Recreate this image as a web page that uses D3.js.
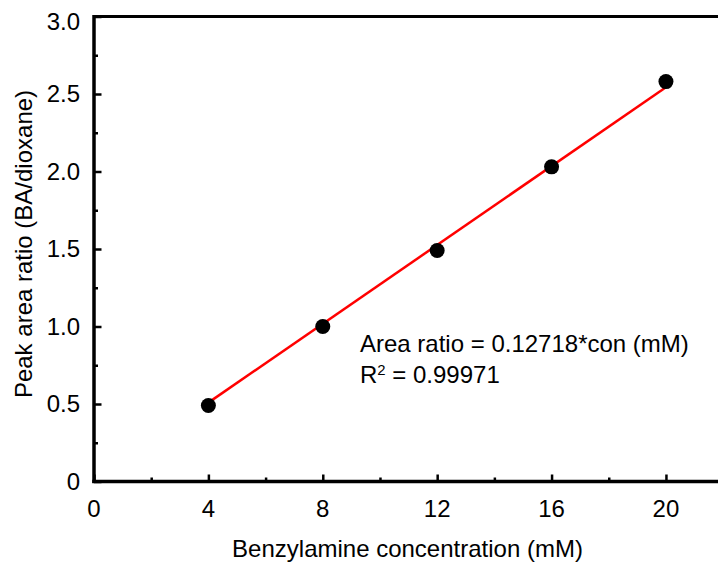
<!DOCTYPE html>
<html>
<head>
<meta charset="utf-8">
<script src="https://cdn.jsdelivr.net/npm/d3@7"></script>
<style>
  html, body { margin: 0; padding: 0; background: #fff; }
  svg { display: block; font-family: "Liberation Sans", Arial, sans-serif; }
</style>
</head>
<body>
<svg id="chart" width="718" height="564"></svg>
<script>
// ---- data ----
const concentrations = [4, 8, 12, 16, 20];
const areaRatios = [0.49, 1.00, 1.49, 2.03, 2.58];
const slope = 0.12718;
const rSquared = "0.99971";
const xTicks = [0, 4, 8, 12, 16, 20];
const xMinorTicks = [2, 6, 10, 14, 18];
const yTicks = [0, 0.5, 1.0, 1.5, 2.0, 2.5, 3.0];
const yMinorTicks = [0.25, 0.75, 1.25, 1.75, 2.25, 2.75];
const yTickLabels = ["0", "0.5", "1.0", "1.5", "2.0", "2.5", "3.0"];
const xTitle = "Benzylamine concentration (mM)";
const yTitle = "Peak area ratio (BA/dioxane)";
const equationText = "Area ratio = 0.12718*con (mM)";

// ---- layout ----
const W = 718, H = 564;
const m = { left: 94, top: 16.5, right: 0, bottom: 82.5 };
const svg = d3.select("#chart");

const x = d3.scaleLinear().domain([0, 21.82]).range([m.left, W - m.right]);
const y = d3.scaleLinear().domain([0, 3]).range([H - m.bottom, m.top]);

const fs = 24;

// top frame line
svg.append("line")
  .attr("x1", x(0)).attr("x2", x.range()[1])
  .attr("y1", y(3)).attr("y2", y(3))
  .attr("stroke", "#000").attr("stroke-width", 3);

// y axis ticks (inside)
function styleTicks(g) {
  g.select(".domain").remove();
  g.selectAll(".tick line").attr("stroke-width", 2.5);
}
svg.append("g").attr("transform", `translate(${x(0)},0)`)
  .call(d3.axisRight(y).tickValues(yTicks).tickSize(7.5).tickFormat("")).call(styleTicks);
svg.append("g").attr("transform", `translate(${x(0)},0)`)
  .call(d3.axisRight(y).tickValues(yMinorTicks).tickSize(4).tickFormat("")).call(styleTicks);

// x axis ticks (inside)
svg.append("g").attr("transform", `translate(0,${y(0)})`)
  .call(d3.axisTop(x).tickValues(xTicks).tickSize(7).tickFormat("")).call(styleTicks);
svg.append("g").attr("transform", `translate(0,${y(0)})`)
  .call(d3.axisTop(x).tickValues(xMinorTicks).tickSize(4).tickFormat("")).call(styleTicks);

// axis lines
svg.append("line")
  .attr("x1", x(0)).attr("x2", x(0))
  .attr("y1", y(3) - 1.5).attr("y2", y(0) + 1.5)
  .attr("stroke", "#000").attr("stroke-width", 3.5);
svg.append("line")
  .attr("x1", x(0) - 1.75).attr("x2", x.range()[1])
  .attr("y1", y(0)).attr("y2", y(0))
  .attr("stroke", "#000").attr("stroke-width", 3.5);

// tick labels
svg.append("g").selectAll("text").data(yTicks).join("text")
  .attr("x", x(0) - 14).attr("y", d => Math.max(y(d), 22))
  .attr("dy", "0.35em")
  .attr("text-anchor", "end")
  .attr("font-size", fs)
  .text((d, i) => yTickLabels[i]);

svg.append("g").selectAll("text").data(xTicks).join("text")
  .attr("x", d => x(d)).attr("y", y(0) + 35.5)
  .attr("text-anchor", "middle")
  .attr("font-size", fs)
  .text(d => d);

// titles
svg.append("text")
  .attr("x", 407.5).attr("y", 557)
  .attr("text-anchor", "middle")
  .attr("font-size", fs)
  .text(xTitle);

svg.append("text")
  .attr("transform", `translate(32,${244}) rotate(-90)`)
  .attr("text-anchor", "middle")
  .attr("font-size", fs)
  .text(yTitle);

// fit line
const xs = d3.extent(concentrations);
svg.append("line")
  .attr("x1", x(xs[0])).attr("y1", y(slope * xs[0]))
  .attr("x2", x(xs[1])).attr("y2", y(slope * xs[1]))
  .attr("stroke", "#ff0000").attr("stroke-width", 2.5);

// points
svg.append("g").selectAll("circle").data(concentrations).join("circle")
  .attr("cx", d => x(d))
  .attr("cy", (d, i) => y(areaRatios[i]))
  .attr("r", 7.5)
  .attr("fill", "#000");

// annotation
svg.append("text")
  .attr("x", 360).attr("y", 352)
  .attr("font-size", fs)
  .text(equationText);
const r2 = svg.append("text")
  .attr("x", 360).attr("y", 383)
  .attr("font-size", fs);
r2.append("tspan").text("R");
r2.append("tspan").attr("font-size", fs * 0.62).attr("dy", -8).text("2");
r2.append("tspan").attr("dy", 8).text(" = " + rSquared);
</script>
</body>
</html>
